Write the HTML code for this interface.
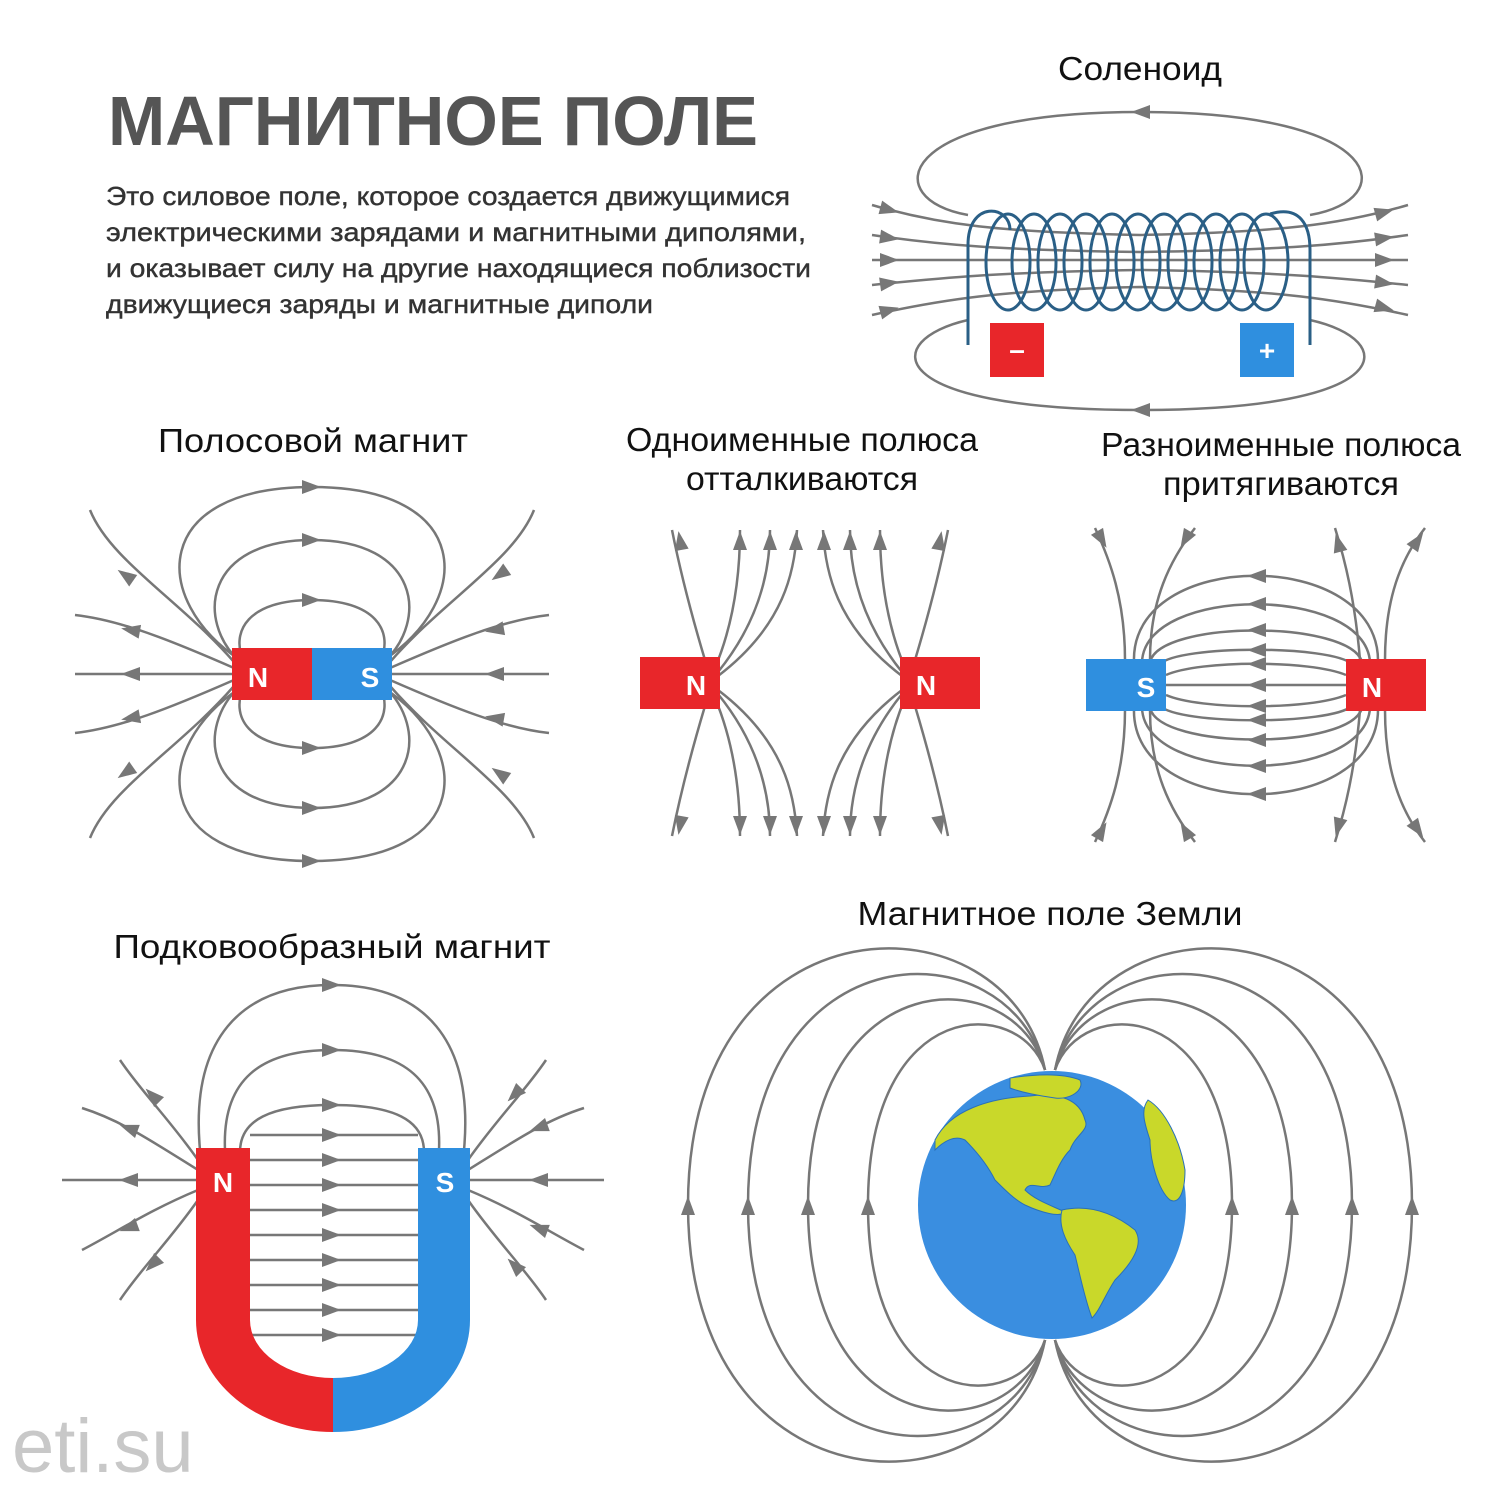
<!DOCTYPE html>
<html><head><meta charset="utf-8"><style>
html,body{margin:0;padding:0;background:#fff}
svg{display:block}
text{font-family:"Liberation Sans","DejaVu Sans",sans-serif}
</style></head><body>
<svg width="1500" height="1494" viewBox="0 0 1500 1494" xmlns="http://www.w3.org/2000/svg">
<defs>
<path id="a" d="M-10,-7 L9,0 L-10,7 Z" fill="#777"/>
</defs>
<rect width="1500" height="1494" fill="#fff"/>

<!-- Title and text -->
<text x="108" y="145" font-size="70" font-weight="bold" fill="#555" textLength="650" lengthAdjust="spacingAndGlyphs">МАГНИТНОЕ ПОЛЕ</text>
<g font-size="26" fill="#333" stroke="#333" stroke-width="0.4">
<text x="106" y="205" textLength="684" lengthAdjust="spacingAndGlyphs">Это силовое поле, которое создается движущимися</text>
<text x="106" y="241" textLength="700" lengthAdjust="spacingAndGlyphs">электрическими зарядами и магнитными диполями,</text>
<text x="106" y="277" textLength="705" lengthAdjust="spacingAndGlyphs">и оказывает силу на другие находящиеся поблизости</text>
<text x="106" y="313" textLength="547" lengthAdjust="spacingAndGlyphs">движущиеся заряды и магнитные диполи</text>
</g>

<!-- Labels -->
<g font-size="33" fill="#111" text-anchor="middle">
<text x="1140" y="80" textLength="164" lengthAdjust="spacingAndGlyphs">Соленоид</text>
<text x="313" y="452" textLength="310" lengthAdjust="spacingAndGlyphs">Полосовой магнит</text>
<text x="802" y="451" textLength="352" lengthAdjust="spacingAndGlyphs">Одноименные полюса</text>
<text x="802" y="490" textLength="232" lengthAdjust="spacingAndGlyphs">отталкиваются</text>
<text x="1281" y="456" textLength="360" lengthAdjust="spacingAndGlyphs">Разноименные полюса</text>
<text x="1281" y="495" textLength="236" lengthAdjust="spacingAndGlyphs">притягиваются</text>
<text x="332" y="958" textLength="437" lengthAdjust="spacingAndGlyphs">Подковообразный магнит</text>
<text x="1050" y="925" textLength="385" lengthAdjust="spacingAndGlyphs">Магнитное поле Земли</text>
</g>
<text x="12" y="1472" font-size="76" fill="#c8c8c8">eti.su</text>

<!-- Solenoid -->
<g fill="none" stroke="#777" stroke-width="2.5">
<path d="M968,215 C880,200 890,112 1140,112 C1390,112 1400,200 1310,215"/>
<path d="M968,320 C880,340 880,410 1140,410 C1400,410 1400,340 1310,320"/>
<path d="M872,205 C940,225 1000,232 1140,235 C1280,232 1340,225 1408,205"/>
<path d="M872,235 C940,245 1000,250 1140,252 C1280,250 1340,245 1408,235"/>
<path d="M872,260 L1408,260"/>
<path d="M872,285 C940,278 1000,272 1140,270 C1280,272 1340,278 1408,285"/>
<path d="M872,315 C940,300 1000,290 1140,287 C1280,290 1340,300 1408,315"/>
</g>
<use href="#a" transform="translate(1140,112) rotate(180)"/>
<use href="#a" transform="translate(1140,410) rotate(180)"/>
<use href="#a" transform="translate(890,210) rotate(15)"/>
<use href="#a" transform="translate(890,238) rotate(8)"/>
<use href="#a" transform="translate(890,260)"/>
<use href="#a" transform="translate(890,283) rotate(-8)"/>
<use href="#a" transform="translate(890,310) rotate(-15)"/>
<use href="#a" transform="translate(1385,212) rotate(-15)"/>
<use href="#a" transform="translate(1385,238) rotate(-8)"/>
<use href="#a" transform="translate(1385,260)"/>
<use href="#a" transform="translate(1385,283) rotate(8)"/>
<use href="#a" transform="translate(1385,308) rotate(15)"/>
<g fill="none" stroke="#2a5f86" stroke-width="3">
<path d="M968,345 L968,245 C968,200 1010,205 1010,230"/>
<ellipse cx="1008" cy="262" rx="22" ry="48"/>
<ellipse cx="1034" cy="262" rx="22" ry="48"/>
<ellipse cx="1060" cy="262" rx="22" ry="48"/>
<ellipse cx="1086" cy="262" rx="22" ry="48"/>
<ellipse cx="1112" cy="262" rx="22" ry="48"/>
<ellipse cx="1138" cy="262" rx="22" ry="48"/>
<ellipse cx="1164" cy="262" rx="22" ry="48"/>
<ellipse cx="1190" cy="262" rx="22" ry="48"/>
<ellipse cx="1216" cy="262" rx="22" ry="48"/>
<ellipse cx="1242" cy="262" rx="22" ry="48"/>
<ellipse cx="1266" cy="262" rx="22" ry="48"/>
<path d="M1270,214 C1300,205 1310,225 1310,250 L1310,345"/>
</g>
<rect x="990" y="323" width="54" height="54" fill="#e8262a"/>
<rect x="1240" y="323" width="54" height="54" fill="#2f8fdf"/>
<text x="1017" y="359" font-size="28" font-weight="bold" fill="#fff" text-anchor="middle">–</text>
<text x="1267" y="360" font-size="28" font-weight="bold" fill="#fff" text-anchor="middle">+</text>

<!-- Bar magnet -->
<g fill="none" stroke="#777" stroke-width="2.5">
<path d="M240,660 C150,600 150,487 312,487 C474,487 474,600 384,660"/>
<path d="M240,662 C195,620 205,540 312,540 C419,540 429,620 384,662"/>
<path d="M245,665 C228,630 250,600 312,600 C374,600 396,630 379,665"/>
<path d="M240,688 C150,748 150,861 312,861 C474,861 474,748 384,688"/>
<path d="M240,686 C195,728 205,808 312,808 C419,808 429,728 384,686"/>
<path d="M245,683 C228,718 250,748 312,748 C374,748 396,718 379,683"/>
<path d="M234,662 C180,600 110,560 90,510"/>
<path d="M234,668 C170,640 120,620 75,615"/>
<path d="M234,674 L75,674"/>
<path d="M234,680 C170,708 120,728 75,733"/>
<path d="M234,686 C180,748 110,788 90,838"/>
<path d="M390,662 C444,600 514,560 534,510"/>
<path d="M390,668 C454,640 504,620 549,615"/>
<path d="M390,674 L549,674"/>
<path d="M390,680 C454,708 504,728 549,733"/>
<path d="M390,686 C444,748 514,788 534,838"/>
</g>
<use href="#a" transform="translate(312,487)"/>
<use href="#a" transform="translate(312,540)"/>
<use href="#a" transform="translate(312,600)"/>
<use href="#a" transform="translate(312,748)"/>
<use href="#a" transform="translate(312,808)"/>
<use href="#a" transform="translate(312,861)"/>
<use href="#a" transform="translate(125,575) rotate(215)"/>
<use href="#a" transform="translate(130,630) rotate(190)"/>
<use href="#a" transform="translate(130,674) rotate(180)"/>
<use href="#a" transform="translate(130,718) rotate(170)"/>
<use href="#a" transform="translate(125,773) rotate(145)"/>
<use href="#a" transform="translate(499,575) rotate(145)"/>
<use href="#a" transform="translate(494,630) rotate(170)"/>
<use href="#a" transform="translate(494,674) rotate(180)"/>
<use href="#a" transform="translate(494,718) rotate(190)"/>
<use href="#a" transform="translate(499,773) rotate(215)"/>
<rect x="232" y="648" width="80" height="52" fill="#e8262a"/>
<rect x="312" y="648" width="80" height="52" fill="#2f8fdf"/>
<text x="258" y="687" font-size="28" font-weight="bold" fill="#fff" text-anchor="middle">N</text>
<text x="370" y="687" font-size="28" font-weight="bold" fill="#fff" text-anchor="middle">S</text>

<!-- Repel -->
<g fill="none" stroke="#777" stroke-width="2.5">
<path d="M705,660 C690,610 680,570 672,530"/>
<path d="M715,668 C735,620 740,570 740,530"/>
<path d="M718,672 C760,620 770,570 770,530"/>
<path d="M718,676 C785,625 795,570 797,530"/>
<path d="M705,706 C690,756 680,796 672,836"/>
<path d="M715,698 C735,746 740,796 740,836"/>
<path d="M718,694 C760,746 770,796 770,836"/>
<path d="M718,690 C785,741 795,796 797,836"/>
<path d="M915,660 C930,610 940,570 948,530"/>
<path d="M905,668 C885,620 880,570 880,530"/>
<path d="M902,672 C860,620 850,570 850,530"/>
<path d="M902,676 C835,625 825,570 823,530"/>
<path d="M915,706 C930,756 940,796 948,836"/>
<path d="M905,698 C885,746 880,796 880,836"/>
<path d="M902,694 C860,746 850,796 850,836"/>
<path d="M902,690 C835,741 825,796 823,836"/>
</g>
<g>
<use href="#a" transform="translate(680,540) rotate(-100)"/>
<use href="#a" transform="translate(740,540) rotate(-90)"/>
<use href="#a" transform="translate(770,540) rotate(-90)"/>
<use href="#a" transform="translate(796,540) rotate(-90)"/>
<use href="#a" transform="translate(940,540) rotate(-80)"/>
<use href="#a" transform="translate(880,540) rotate(-90)"/>
<use href="#a" transform="translate(850,540) rotate(-90)"/>
<use href="#a" transform="translate(824,540) rotate(-90)"/>
<use href="#a" transform="translate(680,826) rotate(100)"/>
<use href="#a" transform="translate(740,826) rotate(90)"/>
<use href="#a" transform="translate(770,826) rotate(90)"/>
<use href="#a" transform="translate(796,826) rotate(90)"/>
<use href="#a" transform="translate(940,826) rotate(80)"/>
<use href="#a" transform="translate(880,826) rotate(90)"/>
<use href="#a" transform="translate(850,826) rotate(90)"/>
<use href="#a" transform="translate(824,826) rotate(90)"/>
</g>
<rect x="640" y="657" width="80" height="52" fill="#e8262a"/>
<rect x="900" y="657" width="80" height="52" fill="#e8262a"/>
<text x="696" y="695" font-size="28" font-weight="bold" fill="#fff" text-anchor="middle">N</text>
<text x="926" y="695" font-size="28" font-weight="bold" fill="#fff" text-anchor="middle">N</text>

<!-- Attract -->
<g fill="none" stroke="#777" stroke-width="2.5">
<path d="M1166,685 L1346,685"/>
<path d="M1166,675 C1200,660 1310,660 1346,675"/>
<path d="M1166,695 C1200,710 1310,710 1346,695"/>
<path d="M1160,664 C1180,645 1330,645 1352,664"/>
<path d="M1160,706 C1180,725 1330,725 1352,706"/>
<path d="M1150,662 C1160,620 1350,620 1362,662"/>
<path d="M1150,708 C1160,750 1350,750 1362,708"/>
<path d="M1142,662 C1145,585 1365,585 1370,662"/>
<path d="M1142,708 C1145,785 1365,785 1370,708"/>
<path d="M1134,662 C1130,547 1380,547 1378,662"/>
<path d="M1134,708 C1130,823 1380,823 1378,708"/>
<path d="M1125,660 C1125,600 1110,560 1095,528"/>
<path d="M1125,710 C1125,770 1110,810 1095,842"/>
<path d="M1150,660 C1150,600 1170,560 1195,528"/>
<path d="M1150,710 C1150,770 1170,810 1195,842"/>
<path d="M1385,660 C1385,600 1400,560 1425,528"/>
<path d="M1385,710 C1385,770 1400,810 1425,842"/>
<path d="M1360,660 C1355,600 1345,560 1335,528"/>
<path d="M1360,710 C1355,770 1345,810 1335,842"/>
</g>
<g>
<use href="#a" transform="translate(1256,685) rotate(180)"/>
<use href="#a" transform="translate(1256,664) rotate(180)"/>
<use href="#a" transform="translate(1256,706) rotate(180)"/>
<use href="#a" transform="translate(1256,650) rotate(180)"/>
<use href="#a" transform="translate(1256,720) rotate(180)"/>
<use href="#a" transform="translate(1256,630) rotate(180)"/>
<use href="#a" transform="translate(1256,740) rotate(180)"/>
<use href="#a" transform="translate(1256,604) rotate(180)"/>
<use href="#a" transform="translate(1256,766) rotate(180)"/>
<use href="#a" transform="translate(1256,576) rotate(180)"/>
<use href="#a" transform="translate(1256,794) rotate(180)"/>
<use href="#a" transform="translate(1102,540) rotate(60)"/>
<use href="#a" transform="translate(1102,830) rotate(-60)"/>
<use href="#a" transform="translate(1185,540) rotate(120)"/>
<use href="#a" transform="translate(1185,830) rotate(-120)"/>
<use href="#a" transform="translate(1418,540) rotate(-55)"/>
<use href="#a" transform="translate(1418,830) rotate(55)"/>
<use href="#a" transform="translate(1338,542) rotate(-105)"/>
<use href="#a" transform="translate(1338,828) rotate(105)"/>
</g>
<rect x="1086" y="659" width="80" height="52" fill="#2f8fdf"/>
<rect x="1346" y="659" width="80" height="52" fill="#e8262a"/>
<text x="1146" y="697" font-size="28" font-weight="bold" fill="#fff" text-anchor="middle">S</text>
<text x="1372" y="697" font-size="28" font-weight="bold" fill="#fff" text-anchor="middle">N</text>

<!-- Horseshoe -->
<g fill="none" stroke="#777" stroke-width="2.5">
<path d="M200,1150 C190,1040 240,985 332,985 C424,985 474,1040 464,1150"/>
<path d="M225,1150 C222,1080 260,1050 332,1050 C404,1050 442,1080 439,1150"/>
<path d="M240,1152 C240,1120 270,1105 332,1105 C394,1105 424,1120 424,1152"/>
<path d="M250,1135 L418,1135"/>
<path d="M250,1160 L418,1160"/>
<path d="M250,1185 L418,1185"/>
<path d="M250,1210 L418,1210"/>
<path d="M250,1235 L418,1235"/>
<path d="M250,1260 L418,1260"/>
<path d="M250,1285 L418,1285"/>
<path d="M250,1310 L418,1310"/>
<path d="M250,1335 L418,1335"/>
<path d="M198,1160 C170,1120 140,1090 120,1060"/>
<path d="M198,1170 C150,1140 120,1120 82,1108"/>
<path d="M198,1180 L62,1180"/>
<path d="M198,1190 C150,1210 120,1230 82,1250"/>
<path d="M198,1200 C170,1240 140,1270 120,1300"/>
<path d="M468,1160 C496,1120 526,1090 546,1060"/>
<path d="M468,1170 C516,1140 546,1120 584,1108"/>
<path d="M468,1180 L604,1180"/>
<path d="M468,1190 C516,1210 546,1230 584,1250"/>
<path d="M468,1200 C496,1240 526,1270 546,1300"/>
</g>
<g>
<use href="#a" transform="translate(332,985)"/>
<use href="#a" transform="translate(332,1050)"/>
<use href="#a" transform="translate(332,1105)"/>
<use href="#a" transform="translate(332,1135)"/>
<use href="#a" transform="translate(332,1160)"/>
<use href="#a" transform="translate(332,1185)"/>
<use href="#a" transform="translate(332,1210)"/>
<use href="#a" transform="translate(332,1235)"/>
<use href="#a" transform="translate(332,1260)"/>
<use href="#a" transform="translate(332,1285)"/>
<use href="#a" transform="translate(332,1310)"/>
<use href="#a" transform="translate(332,1335)"/>
<use href="#a" transform="translate(152,1095) rotate(225)"/>
<use href="#a" transform="translate(128,1128) rotate(200)"/>
<use href="#a" transform="translate(128,1180) rotate(180)"/>
<use href="#a" transform="translate(128,1228) rotate(160)"/>
<use href="#a" transform="translate(152,1265) rotate(135)"/>
<use href="#a" transform="translate(514,1095) rotate(135)"/>
<use href="#a" transform="translate(538,1128) rotate(160)"/>
<use href="#a" transform="translate(538,1180) rotate(180)"/>
<use href="#a" transform="translate(538,1228) rotate(200)"/>
<use href="#a" transform="translate(514,1265) rotate(225)"/>
</g>
<path d="M196,1148 L250,1148 L250,1320 A83,58 0 0 0 333,1378 L333,1432 A137,112 0 0 1 196,1320 Z" fill="#e8262a"/>
<path d="M470,1148 L418,1148 L418,1320 A85,58 0 0 1 333,1378 L333,1432 A137,112 0 0 0 470,1320 Z" fill="#2f8fdf"/>
<text x="223" y="1192" font-size="28" font-weight="bold" fill="#fff" text-anchor="middle">N</text>
<text x="445" y="1192" font-size="28" font-weight="bold" fill="#fff" text-anchor="middle">S</text>

<!-- Earth field -->
<g fill="none" stroke="#777" stroke-width="2.5">
<path d="M1045,1070 C1010,890 688,890 688,1205 C688,1520 1010,1520 1045,1340"/>
<path d="M1045,1070 C1010,925 748,925 748,1205 C748,1485 1010,1485 1045,1340"/>
<path d="M1045,1070 C1015,960 808,960 808,1205 C808,1450 1015,1450 1045,1340"/>
<path d="M1045,1070 C1020,995 868,995 868,1205 C868,1415 1020,1415 1045,1340"/>
<path d="M1055,1070 C1090,890 1412,890 1412,1205 C1412,1520 1090,1520 1055,1340"/>
<path d="M1055,1070 C1090,925 1352,925 1352,1205 C1352,1485 1090,1485 1055,1340"/>
<path d="M1055,1070 C1085,960 1292,960 1292,1205 C1292,1450 1085,1450 1055,1340"/>
<path d="M1055,1070 C1080,995 1232,995 1232,1205 C1232,1415 1080,1415 1055,1340"/>
</g>
<g>
<use href="#a" transform="translate(688,1205) rotate(-90)"/>
<use href="#a" transform="translate(748,1205) rotate(-90)"/>
<use href="#a" transform="translate(808,1205) rotate(-90)"/>
<use href="#a" transform="translate(868,1205) rotate(-90)"/>
<use href="#a" transform="translate(1412,1205) rotate(-90)"/>
<use href="#a" transform="translate(1352,1205) rotate(-90)"/>
<use href="#a" transform="translate(1292,1205) rotate(-90)"/>
<use href="#a" transform="translate(1232,1205) rotate(-90)"/>
</g>
<circle cx="1052" cy="1205" r="134" fill="#3a8ee0"/>
<g fill="#c9d82a" stroke="#2a70b8" stroke-width="1">
<path d="M935,1140 C950,1110 990,1098 1030,1096 C1060,1092 1080,1100 1085,1120 C1090,1130 1075,1135 1070,1150 C1060,1160 1055,1175 1050,1185 C1040,1190 1030,1180 1025,1190 C1035,1200 1050,1205 1065,1212 C1060,1218 1040,1212 1025,1205 C1015,1200 1005,1190 995,1180 C990,1170 980,1155 965,1140 C955,1135 945,1140 935,1150 Z"/>
<path d="M1010,1078 C1030,1075 1060,1072 1080,1080 C1085,1090 1070,1100 1055,1098 C1040,1096 1020,1092 1010,1088 Z"/>
<path d="M1062,1210 C1085,1205 1110,1210 1135,1230 C1145,1245 1130,1265 1115,1280 C1105,1295 1100,1310 1092,1318 C1085,1300 1080,1275 1075,1255 C1065,1240 1058,1225 1062,1210 Z"/>
<path d="M1148,1100 C1165,1110 1180,1140 1185,1170 C1185,1190 1180,1205 1170,1200 C1158,1190 1150,1160 1150,1140 C1145,1125 1140,1110 1148,1100 Z"/>
</g>
</svg>
</body></html>
